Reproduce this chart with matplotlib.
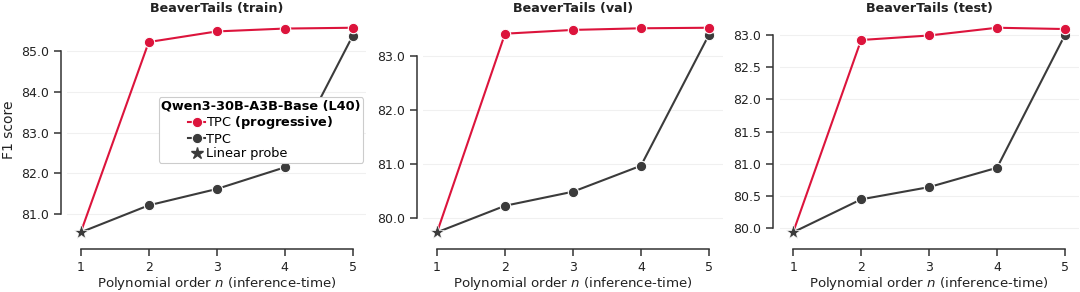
import numpy as np
import matplotlib
matplotlib.use("Agg")
import matplotlib.pyplot as plt
from matplotlib.lines import Line2D

# polynomial order n
orders = [1, 2, 3, 4, 5]

titles = ["BeaverTails (train)", "BeaverTails (val)", "BeaverTails (test)"]

# n = 1 is the linear probe (shared start point)
linear_probe = [80.56, 79.74, 79.94]

tpc_progressive = [
    [85.22, 85.48, 85.55, 85.57],
    [83.41, 83.48, 83.51, 83.52],
    [82.92, 82.99, 83.11, 83.09],
]
tpc = [
    [81.22, 81.62, 82.15, 85.37],
    [80.23, 80.49, 80.97, 83.39],
    [80.45, 80.64, 80.94, 83.00],
]

yticks = [
    [81, 82, 83, 84, 85],
    [80, 81, 82, 83],
    [80.0, 80.5, 81.0, 81.5, 82.0, 82.5, 83.0],
]

red = "#dc143c"
dark = "#3b3b3b"

plt.rcParams["font.family"] = "DejaVu Sans"
plt.rcParams["font.size"] = 9

fig = plt.figure(figsize=(10.8, 2.92), dpi=100)
lefts = [0.0622, 0.3921, 0.7218]
axes = [fig.add_axes([l, 0.1695, 0.2769, 0.7705]) for l in lefts]

for i, ax in enumerate(axes):
    prog = [linear_probe[i]] + tpc_progressive[i]
    plain = [linear_probe[i]] + tpc[i]
    ax.plot(orders[1:], plain[1:], color=dark, lw=1.5, marker="o", ms=7.5,
            mec="white", mew=0.8, zorder=3)
    ax.plot(orders[:2], plain[:2], color=dark, lw=1.5, zorder=2)
    ax.plot(orders[1:], prog[1:], color=red, lw=1.5, marker="o", ms=7.5,
            mec="white", mew=0.8, zorder=4)
    ax.plot(orders[:2], prog[:2], color=red, lw=1.5, zorder=2)
    ax.plot(orders[0], linear_probe[i], color=dark, marker="*", ms=11,
            ls="none", mec="white", mew=0.5, zorder=5)

    ax.set_xlim(0.8, 5.2)
    ax.set_xticks(orders)
    ax.set_yticks(yticks[i])
    ax.set_yticklabels([f"{v:.1f}" for v in yticks[i]])
    ax.tick_params(labelsize=9, length=5, width=1.1, colors="#333333")
    ax.tick_params(labelcolor="#222222")
    ax.yaxis.grid(True, color="#f0f0f0", lw=0.8)
    ax.set_axisbelow(True)

    for s in ["top", "right"]:
        ax.spines[s].set_visible(False)
    for s in ["left", "bottom"]:
        ax.spines[s].set_position(("outward", 4.5))
        ax.spines[s].set_linewidth(1.1)
        ax.spines[s].set_color("#333333")
    ax.spines["left"].set_bounds(yticks[i][0], yticks[i][-1])
    ax.spines["bottom"].set_bounds(orders[0], orders[-1])

    ax.set_title(titles[i], fontsize=9.2, fontweight="bold", color="#222222", pad=4)
    ax.set_xlabel("Polynomial order $n$ (inference-time)", fontsize=9.6,
                  color="#222222", labelpad=1)

axes[0].set_ylabel("F1 score", fontsize=10, color="#222222")

handles = [
    Line2D([], [], color=red, lw=1.5, marker="o", ms=7.5, mec="white", mew=0.8),
    Line2D([], [], color=dark, lw=1.5, marker="o", ms=7.5, mec="white", mew=0.8),
    Line2D([], [], color=dark, ls="none", marker="*", ms=9),
]
labels = ["TPC $\\mathbf{(progressive)}$", "TPC", "Linear probe"]
leg = axes[0].legend(handles, labels, title="Qwen3-30B-A3B-Base (L40)",
                     loc="center right", bbox_to_anchor=(0.99, 0.50),
                     fontsize=9.3, title_fontproperties={"weight": "bold", "size": 9.3},
                     handlelength=1.3, handletextpad=0.1, borderpad=0.2,
                     labelspacing=0.12, borderaxespad=0, framealpha=1,
                     edgecolor="#cccccc", fancybox=True)
leg.get_frame().set_linewidth(0.8)

fig.savefig("out.png", dpi=100)
